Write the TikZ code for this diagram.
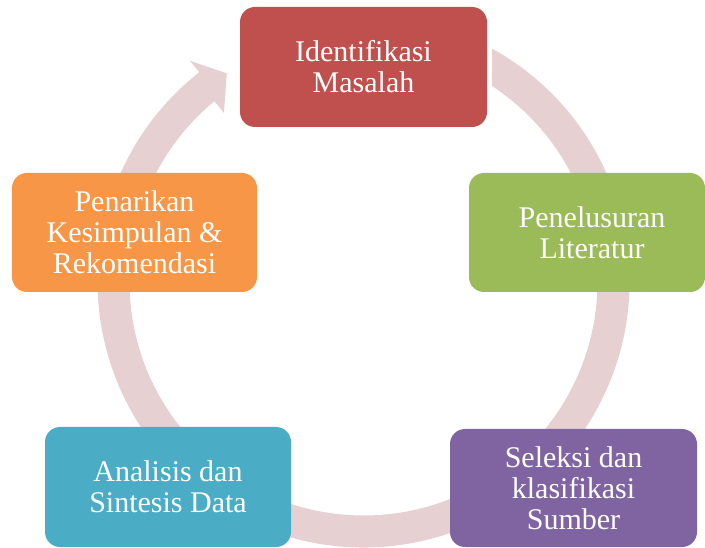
\documentclass[tikz,border=0pt]{standalone}
\usepackage{fontspec}
\setmainfont{Liberation Serif}
\usetikzlibrary{calc}
\definecolor{ringc}{HTML}{E7D0D1}
\definecolor{cred}{HTML}{C0504D}
\definecolor{cgreen}{HTML}{9BBB59}
\definecolor{corange}{HTML}{F79646}
\definecolor{cteal}{HTML}{4BACC6}
\definecolor{cpurple}{HTML}{8064A2}
\begin{document}
\begin{tikzpicture}[x=1pt,y=1pt,
  cbox/.style={rectangle, rounded corners=15pt, draw=none, inner sep=0pt},
  ctext/.style={text=white, align=center, font=\fontsize{30}{31}\selectfont, inner sep=0pt}
]
\useasboundingbox (0,0) rectangle (705,547);
\coordinate (C) at (363.5,265.5);
% circular arrow ring
\fill[ringc] ($(C)+(61.1:266pt)$) arc[start angle=61.1, end angle=-231.9, radius=266pt]
  -- ($(C)+(-231.8:281pt)$) -- ($(C)+(-236.7:249pt)$) -- ($(C)+(-230.4:219pt)$)
  -- ($(C)+(-230.4:234pt)$) arc[start angle=-230.4, end angle=56.7, radius=234pt] -- cycle;
% boxes
\node[cbox, fill=cred, minimum width=247pt, minimum height=120pt] (b1) at (363.5,480) {};
\node[ctext] (t1) at (b1.center) {Identifikasi\\Masalah};
\node[cbox, fill=cgreen, minimum width=236pt, minimum height=119pt] (b2) at (587,314.5) {};
\node[ctext] (t2) at (592,314.5) {Penelusuran\\Literatur};
\node[cbox, fill=cpurple, minimum width=247pt, minimum height=118pt] (b3) at (573.5,59) {};
\node[ctext] (t3) at (b3.center) {Seleksi dan\\klasifikasi\\Sumber};
\node[cbox, fill=cteal, minimum width=246pt, minimum height=120pt] (b4) at (168,60) {};
\node[ctext] (t4) at (b4.center) {Analisis dan\\Sintesis Data};
\node[cbox, fill=corange, minimum width=245pt, minimum height=119pt] (b5) at (134.5,314.5) {};
\node[ctext] (t5) at (b5.center) {Penarikan\\Kesimpulan \&\\Rekomendasi};
\end{tikzpicture}
\end{document}
